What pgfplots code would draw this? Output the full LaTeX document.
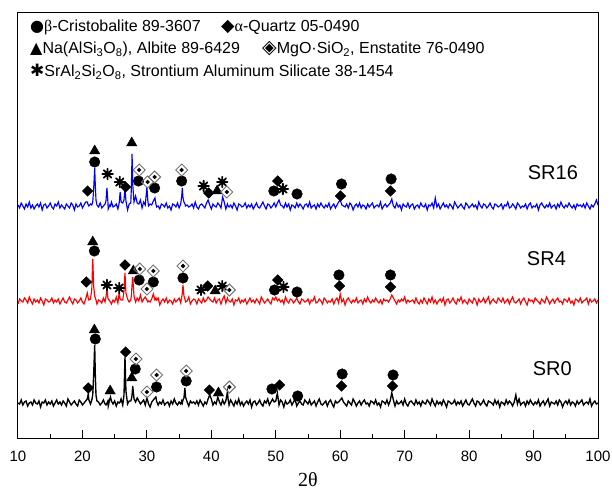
\documentclass[border=0pt]{standalone}
\usepackage{pgfplots}
\pgfplotsset{compat=1.18}
\usepackage{pgfplotstable}
\usepackage{fontspec}
\setmainfont{Liberation Sans}
\newfontfamily\serifg{Liberation Serif}
\newfontfamily\symf{DejaVu Sans}

\pgfdeclareplotmark{rdiam}{%
 \pgfpathmoveto{\pgfqpoint{0pt}{\pgfplotmarksize}}%
 \pgfpathlineto{\pgfqpoint{\pgfplotmarksize}{0pt}}%
 \pgfpathlineto{\pgfqpoint{0pt}{-\pgfplotmarksize}}%
 \pgfpathlineto{\pgfqpoint{-\pgfplotmarksize}{0pt}}%
 \pgfpathclose\pgfusepathqfillstroke}
\pgfdeclareplotmark{enst}{%
 \pgfsetlinewidth{0.9pt}%
 \pgfsetstrokecolor{black!55}%
 \pgfpathmoveto{\pgfqpoint{0pt}{\pgfplotmarksize}}%
 \pgfpathlineto{\pgfqpoint{\pgfplotmarksize}{0pt}}%
 \pgfpathlineto{\pgfqpoint{0pt}{-\pgfplotmarksize}}%
 \pgfpathlineto{\pgfqpoint{-\pgfplotmarksize}{0pt}}%
 \pgfpathclose\pgfusepathqstroke
 \pgfsetfillcolor{black}%
 \pgfpathmoveto{\pgfqpoint{0pt}{0.38\pgfplotmarksize}}%
 \pgfpathlineto{\pgfqpoint{0.38\pgfplotmarksize}{0pt}}%
 \pgfpathlineto{\pgfqpoint{0pt}{-0.38\pgfplotmarksize}}%
 \pgfpathlineto{\pgfqpoint{-0.38\pgfplotmarksize}{0pt}}%
 \pgfpathclose\pgfusepathqfill}
\pgfdeclareplotmark{ast8}{%
 \pgfsetroundcap
 \pgfpathmoveto{\pgfqpoint{-\pgfplotmarksize}{0pt}}\pgfpathlineto{\pgfqpoint{\pgfplotmarksize}{0pt}}%
 \pgfpathmoveto{\pgfqpoint{0pt}{-\pgfplotmarksize}}\pgfpathlineto{\pgfqpoint{0pt}{\pgfplotmarksize}}%
 \pgfpathmoveto{\pgfqpoint{-0.7071\pgfplotmarksize}{-0.7071\pgfplotmarksize}}\pgfpathlineto{\pgfqpoint{0.7071\pgfplotmarksize}{0.7071\pgfplotmarksize}}%
 \pgfpathmoveto{\pgfqpoint{-0.7071\pgfplotmarksize}{0.7071\pgfplotmarksize}}\pgfpathlineto{\pgfqpoint{0.7071\pgfplotmarksize}{-0.7071\pgfplotmarksize}}%
 \pgfusepathqstroke}

% relative intensities (columns: 2theta, SR16, SR4, SR0)
\pgfplotstableread{
x s16 s4 s0
10.00 1 -3 0
10.25 -2 2 -1
10.50 3 0 3
10.75 0 -1 -2
11.00 -3 3 1
11.25 2 1 2
11.50 -1 -2 -3
11.75 4 4 0
12.00 -2 0 1
12.25 1 -3 -2
12.50 -3 2 3
12.75 0 -1 0
13.00 2 1 -1
13.25 -1 -2 2
13.50 3 3 -4
13.75 -4 0 1
14.00 1 -4 0
14.25 2 2 3
14.50 -2 1 -2
14.75 0 -1 1
15.00 3 0 -1
15.25 -1 3 2
15.50 -3 -2 -3
15.75 2 1 0
16.00 0 -1 3
16.25 4 2 -1
16.50 -2 -3 1
16.75 1 0 -2
17.00 -1 3 2
17.25 -3 -1 0
17.50 2 -2 -3
17.75 0 1 4
18.00 -2 4 1
18.25 3 0 -2
18.50 1 -3 0
18.75 -4 2 2
19.00 2 1 -1
19.25 -1 -2 -3
19.50 0 0 3
19.75 3 3 1
20.00 -2 -1 -2
20.25 1 -3 0
20.50 4 2 2
20.75 4 8 4
20.90 1 3 9
21.00 0 1 3
21.25 2 2 -1
21.45 1 12 3
21.60 4 42 8
21.75 18 14 30
21.90 38 5 58
22.00 20 3 28
22.10 6 1 8
22.25 1 -3 2
22.50 -1 1 1
22.75 3 0 -2
23.00 -2 -2 0
23.25 0 3 3
23.50 2 -1 -1
23.65 5 4 -2
23.80 18 12 0
23.95 4 3 2
24.00 -3 2 -3
24.25 1 0 4
24.35 0 -1 6
24.50 4 -3 2
24.75 -1 1 -1
25.00 0 -1 2
25.25 2 4 -3
25.50 -3 -2 1
25.70 3 8 0
25.85 14 2 1
26.00 4 1 4
26.25 3 1 -2
26.45 6 10 8
26.60 18 28 46
26.75 5 8 12
27.00 -4 2 -1
27.25 2 -1 2
27.50 3 1 2
27.60 20 6 4
27.70 52 16 8
27.80 22 24 17
27.95 8 10 8
28.00 4 5 4
28.25 10 -1 1
28.50 3 3 5
28.75 2 0 2
29.00 6 6 -1
29.25 -2 -1 1
29.50 4 2 3
29.75 1 4 -2
30.00 19 1 5
30.15 5 -1 2
30.25 0 0 -1
30.50 2 -1 -4
30.75 1 2 1
31.00 5 7 3
31.25 8 1 5
31.40 2 3 6
31.50 -1 1 2
31.75 0 3 -2
32.00 -3 -4 1
32.25 2 0 -1
32.50 1 2 3
32.75 -1 -1 -2
33.00 3 3 0
33.25 -2 -2 1
33.50 0 1 -3
33.75 -4 0 2
34.00 2 -3 -1
34.25 1 2 4
34.50 -1 -1 0
34.75 3 1 -2
35.00 -2 3 1
35.25 2 -2 -1
35.40 10 4 2
35.50 18 8 0
35.60 8 16 3
35.75 4 5 5
35.90 2 2 15
36.00 0 -1 6
36.25 1 0 1
36.50 -1 4 -3
36.75 0 -3 2
37.00 2 0 0
37.25 -2 2 1
37.50 4 1 -1
37.75 -1 -3 2
38.00 -3 2 -2
38.25 1 0 3
38.50 2 -2 0
38.75 0 3 -3
39.00 -2 -1 1
39.25 3 1 -1
39.50 6 4 4
39.75 1 2 8
40.00 -3 0 4
40.25 2 -1 -2
40.50 0 3 1
40.75 -1 -2 -1
41.00 3 1 6
41.25 1 2 1
41.50 -2 -3 -2
41.75 9 2 3
42.00 4 5 -1
42.25 -3 -2 2
42.50 2 3 11
42.60 0 1 4
42.75 -1 0 -2
43.00 1 -1 3
43.25 -2 2 0
43.50 3 -4 -3
43.75 0 1 2
44.00 -4 0 -1
44.25 2 3 4
44.50 1 -2 -2
44.75 -1 1 1
45.00 0 -1 -3
45.25 3 2 0
45.50 -2 -3 2
45.75 1 0 -1
46.00 -1 3 3
46.25 2 -1 -4
46.50 -3 1 1
46.75 0 -2 2
47.00 3 2 -2
47.25 -1 0 0
47.50 -2 -3 3
47.75 1 4 -1
48.00 4 1 -3
48.25 0 -2 2
48.50 -3 0 0
48.75 2 2 4
49.00 1 -1 -2
49.25 -2 -3 1
49.50 0 3 4
49.75 3 1 1
50.00 -1 4 2
50.25 3 0 10
50.50 6 2 -2
50.75 1 -1 3
51.00 0 1 1
51.25 -2 -3 -4
51.50 3 4 2
51.75 -1 0 -1
52.00 2 -2 0
52.25 -4 2 3
52.50 1 1 -2
52.75 0 -2 1
53.00 -2 0 4
53.25 3 3 -3
53.50 -1 -1 0
53.75 2 -3 2
54.00 0 2 -1
54.25 -3 1 -2
54.50 1 -1 3
54.75 2 0 1
55.00 -1 2 -1
55.25 4 -3 3
55.50 -2 1 -2
55.75 0 0 0
56.00 1 4 2
56.25 -3 -2 -3
56.50 2 -1 1
56.75 -1 2 4
57.00 3 0 -1
57.25 0 -3 -2
57.50 -2 3 0
57.75 1 1 2
58.00 -1 -2 -3
58.25 3 0 1
58.50 -3 -1 3
58.75 0 2 -1
59.00 2 -3 -4
59.25 -2 1 2
59.50 1 3 0
59.75 4 -2 1
60.00 6 7 3
60.25 1 -1 5
60.50 0 2 1
60.75 -1 -4 -1
61.00 2 1 -3
61.25 -2 3 2
61.50 3 0 0
61.75 1 -2 -2
62.00 -4 1 4
62.25 0 -1 1
62.50 2 3 -3
62.75 -1 -2 0
63.00 3 0 2
63.25 -2 1 -2
63.50 1 -3 1
63.75 0 2 3
64.00 -3 -1 -1
64.25 2 4 0
64.50 -1 0 -3
64.75 1 -2 2
65.00 3 1 1
65.25 -2 -1 -1
65.50 0 3 3
65.75 1 0 -2
66.00 -1 -2 0
66.25 4 1 -4
66.50 -3 -3 2
66.75 0 2 1
67.00 2 0 -1
67.25 -1 1 3
67.50 1 -1 -2
67.75 3 2 2
68.00 7 6 10
68.25 0 3 3
68.50 -2 0 -3
68.75 3 -3 2
69.00 -1 1 -1
69.25 1 -1 0
69.50 -4 2 2
69.75 2 0 -2
70.00 0 4 4
70.25 -1 -2 -1
70.50 3 1 -3
70.75 -2 -1 1
71.00 1 0 2
71.25 2 1 0
71.50 -3 -2 -2
71.75 0 3 3
72.00 1 -1 -1
72.25 -2 -3 1
72.50 3 1 -3
72.75 0 -2 2
73.00 -1 3 0
73.25 2 0 -1
73.50 -4 -3 3
73.75 1 2 1
74.00 0 -1 -2
74.25 3 4 4
74.50 -2 -2 0
74.75 8 1 -3
75.00 -1 -3 2
75.25 2 0 -1
75.50 -3 2 1
75.75 0 -1 -2
76.00 3 3 3
76.25 -1 -4 0
76.50 1 1 -4
76.75 -2 2 2
77.00 2 -2 1
77.25 0 0 -1
77.50 -3 3 0
77.75 4 -1 3
78.00 1 -3 -2
78.25 -2 2 1
78.50 0 0 -1
78.75 2 4 2
79.00 -1 -2 -3
79.25 -3 1 0
79.50 3 -1 3
79.75 1 -3 -1
80.00 -2 2 -2
80.25 0 0 1
80.50 2 -2 4
80.75 -1 3 0
81.00 1 1 -3
81.25 -3 -4 2
81.50 4 2 1
81.75 0 -1 -2
82.00 -2 0 0
82.25 2 3 3
82.50 1 -2 -1
82.75 -2 1 -3
83.00 0 4 2
83.25 3 -3 1
83.50 -1 0 0
83.75 -3 2 -2
84.00 2 -1 3
84.25 1 -2 -1
84.50 -1 3 2
84.75 0 1 -4
85.00 2 -1 1
85.25 -3 3 0
85.50 1 -2 -2
85.75 0 0 3
86.00 4 2 -1
86.25 -2 -3 2
86.50 -1 1 0
86.75 2 4 -3
87.00 0 -1 1
87.25 -3 -2 8
87.50 3 0 -1
87.75 1 2 4
88.00 -2 -3 -2
88.25 0 1 0
88.50 -1 3 1
88.75 2 -1 -3
89.00 -3 -4 2
89.25 1 2 -1
89.50 3 0 3
89.75 -2 1 0
90.00 0 -2 -2
90.25 -1 3 1
90.50 2 1 -1
90.75 -4 -1 3
91.00 1 -3 -3
91.25 3 2 0
91.50 0 0 2
91.75 -2 -2 -2
92.00 1 4 1
92.25 -1 1 4
92.50 3 -3 -3
92.75 -2 0 1
93.00 0 2 0
93.25 1 -2 -1
93.50 -3 1 2
93.75 2 3 -2
94.00 -1 -1 3
94.25 4 0 1
94.50 0 -3 -4
94.75 -2 2 0
95.00 1 1 2
95.25 -1 -1 -1
95.50 3 3 3
95.75 0 -2 -2
96.00 -2 0 1
96.25 1 -4 0
96.50 -3 2 -3
96.75 2 1 2
97.00 0 -1 -1
97.25 1 3 1
97.50 -1 -2 3
97.75 2 0 -2
98.00 -2 1 0
98.25 3 3 1
98.50 0 -3 -1
98.75 -3 2 4
99.00 1 -1 -3
99.25 -1 0 0
99.50 2 2 2
99.75 6 -2 -1
100.00 1 1 0
}\xrd

\begin{document}
\begin{tikzpicture}
\begin{axis}[name=ax, scale only axis, width=580pt, height=425pt,
  xmin=10, xmax=100, ymin=0, ymax=425,
  xtick={10,20,...,100}, minor x tick num=1, xtick pos=bottom, ytick=\empty,
  tick align=inside, major tick length=8pt, minor tick length=4pt,
  axis line style={line width=1pt}, every tick/.style={black, line width=1pt},
  /pgf/number format/assume math mode=true,
  xticklabel style={font=\fontsize{15}{15}\selectfont, anchor=center, yshift=-18pt},
]
\addplot[blue, line width=1.15pt] table[x=x, y expr=\thisrow{s16}+232] {\xrd};
\addplot[red, line width=1.15pt] table[x=x, y expr=\thisrow{s4}+137] {\xrd};
\addplot[black, line width=1.35pt] table[x=x, y expr=\thisrow{s0}+35] {\xrd};

% beta-Cristobalite
\addplot[only marks, mark=*, mark size=5.3pt, black] coordinates {
(21.9,276) (28.7,257) (31.2,250) (35.4,257) (49.7,247) (53.3,244) (60.2,254) (67.9,259)
(21.85,187) (28.8,158) (31.0,156) (35.6,160) (49.8,148) (53.3,146) (59.8,163) (67.8,163)
(22.0,99) (28.2,69) (31.5,51) (36.1,57) (49.4,49) (53.4,42) (60.3,64) (68.2,63)};
% alpha-Quartz
\addplot[only marks, mark=rdiam, mark size=5.3pt, black] coordinates {
(20.8,247) (26.7,251) (39.6,245) (50.3,257) (60.05,242) (67.8,247)
(20.6,156) (26.6,173) (39.45,152) (50.3,158) (59.9,152) (67.8,151)
(20.9,50) (26.7,86) (39.7,48) (50.6,53) (60.2,52) (68.1,52)};
% Albite
\addplot[only marks, mark=triangle*, mark size=6pt, black] coordinates {
(21.9,287) (27.65,295) (40.9,247)
(21.6,196) (27.9,167) (40.6,147)
(21.85,108) (24.3,47) (27.65,60) (41.1,45)};
% Strontium aluminum silicate
\addplot[only marks, mark=ast8, mark size=5.3pt, black, mark options={line width=1.8pt}] coordinates {
(23.9,264) (25.8,256) (38.8,252) (41.7,256) (51.1,249)
(23.8,153) (25.7,150) (38.4,148) (41.7,152) (51.2,151)};
% Enstatite
\addplot[only marks, mark=enst, mark size=6pt, black] coordinates {
(28.8,268) (30.1,256) (31.2,261) (35.4,268) (42.4,246)
(28.9,169) (30.0,149) (31.0,167) (35.6,172) (42.8,148)
(28.3,79) (30.0,46) (31.5,63) (36.1,67) (42.8,51)};

\node[font=\fontsize{20}{20}\selectfont] at (axis cs:93.0,265) {SR16};
\node[font=\fontsize{20}{20}\selectfont] at (axis cs:92.0,179) {SR4};
\node[font=\fontsize{20}{20}\selectfont] at (axis cs:92.9,69) {SR0};
\end{axis}

\begin{scope}[every node/.style={anchor=base west, inner sep=0pt, font=\fontsize{16}{16}\selectfont}]
\node at ([xshift=12pt,yshift=-19pt]ax.north west) {{\symf ●}{\serifg β}-Cristobalite 89-3607};
\node at ([xshift=203pt,yshift=-19pt]ax.north west) {{\symf\fontsize{17.5}{17.5}\selectfont ◆}{\serifg α}-Quartz 05-0490};
\node at ([xshift=12pt,yshift=-41pt]ax.north west) {{\symf ▲}Na(AlSi\textsubscript{3}O\textsubscript{8}), Albite 89-6429};
\node at ([xshift=244pt,yshift=-41pt]ax.north west) {{\symf\fontsize{19}{19}\selectfont ◈}MgO·SiO\textsubscript{2}, Enstatite 76-0490};
\node at ([xshift=12pt,yshift=-64pt]ax.north west) {{\symf\fontsize{17}{17}\selectfont ✱}SrAl\textsubscript{2}Si\textsubscript{2}O\textsubscript{8}, Strontium Aluminum Silicate 38-1454};
\end{scope}
\node[font=\fontsize{20}{20}\selectfont\serifg] at ([yshift=-42pt]ax.south) {2θ};

\pgfresetboundingbox
\path ([xshift=-18pt,yshift=-54pt]ax.south west) rectangle ([xshift=14pt,yshift=13pt]ax.north east);
\end{tikzpicture}
\end{document}
